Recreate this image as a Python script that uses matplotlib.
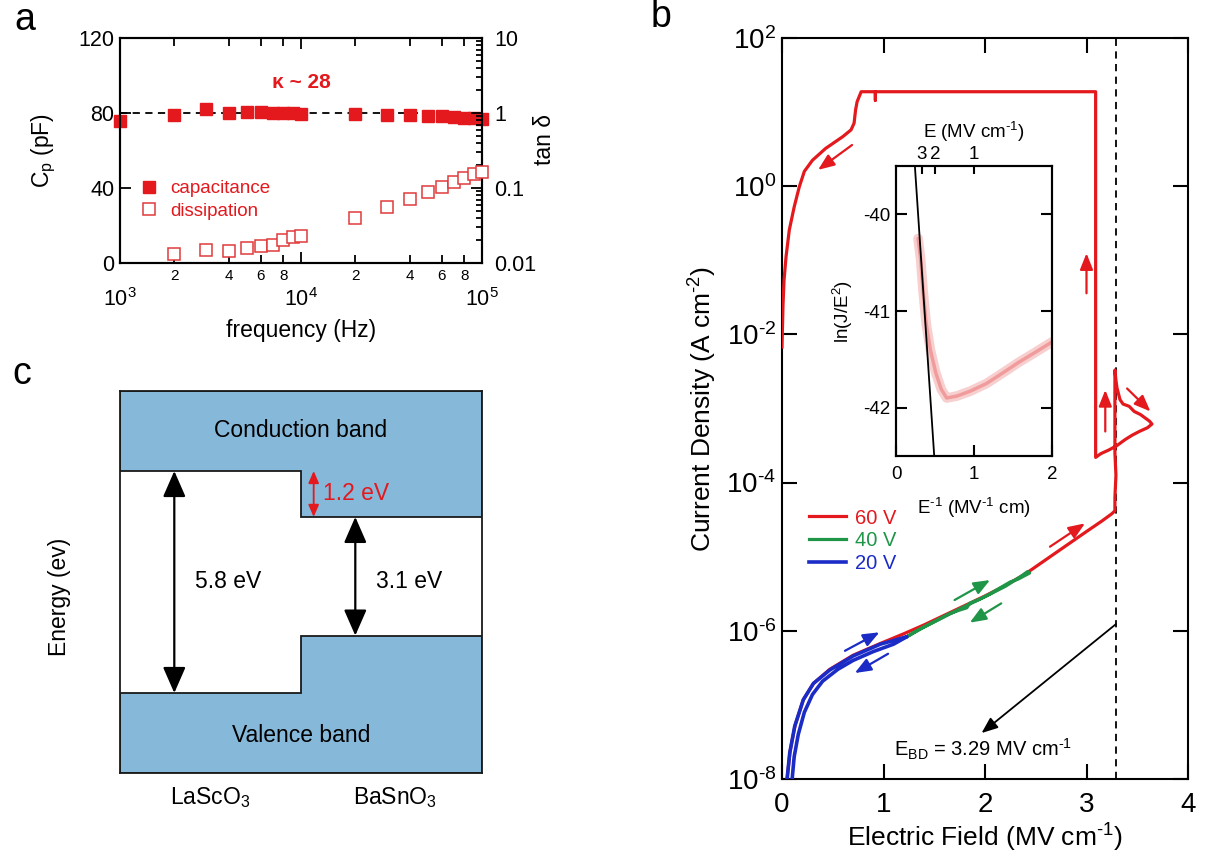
import numpy as np
import matplotlib
matplotlib.use("Agg")
import matplotlib.pyplot as plt
from matplotlib.ticker import FixedLocator, FixedFormatter, FuncFormatter, NullLocator
from matplotlib.patches import Polygon
from matplotlib.lines import Line2D

plt.rcParams['font.family'] = ['Liberation Sans', 'DejaVu Sans']
plt.rcParams['mathtext.fontset'] = 'custom'
plt.rcParams['mathtext.rm'] = 'Liberation Sans'
plt.rcParams['mathtext.it'] = 'Liberation Sans:italic'
plt.rcParams['mathtext.bf'] = 'Liberation Sans:bold'
plt.rcParams['axes.linewidth'] = 1.5

# ---------------- (a) capacitance / dissipation vs frequency ----------------
freq = [1e3, 2e3, 3e3, 4e3, 5e3, 6e3, 7e3, 8e3, 9e3, 1e4,
        2e4, 3e4, 4e4, 5e4, 6e4, 7e4, 8e4, 9e4, 1e5]
cap_pf = [75.9, 78.9, 81.9, 80.1, 80.3, 80.5, 79.8, 79.8, 79.8, 79.4,
          79.4, 79.2, 78.9, 78.5, 78.2, 78.0, 77.6, 77.3, 76.9]
diss_freq = [2e3, 3e3, 4e3, 5e3, 6e3, 7e3, 8e3, 9e3, 1e4,
             2e4, 3e4, 4e4, 5e4, 6e4, 7e4, 8e4, 9e4, 1e5]
tan_delta = [0.0132, 0.0149, 0.0143, 0.0157, 0.0167, 0.0175, 0.0200, 0.0219, 0.0231,
             0.0396, 0.0561, 0.0716, 0.0879, 0.102, 0.119, 0.135, 0.152, 0.165]
cap_ref = 80
kappa = 28
freq_major = [1e3, 1e4, 1e5]
freq_major_labels = [r'$10^{3}$', r'$10^{4}$', r'$10^{5}$']
freq_minor = [2e3, 4e3, 6e3, 8e3, 2e4, 4e4, 6e4, 8e4]
freq_minor_labels = ['2', '4', '6', '8', '2', '4', '6', '8']
cap_ticks = [0, 40, 80, 120]
tan_ticks = [0.01, 0.1, 1, 10]
tan_tick_labels = ['0.01', '0.1', '1', '10']

# ---------------- (b) J-E sweeps ----------------
# 60 V sweep: forward ramp, breakdown, compliance, return
red_e = [0.05, 0.08, 0.13, 0.21, 0.31, 0.47, 0.70, 0.97, 1.20, 1.40, 1.60, 1.80,
         2.00, 2.20, 2.40, 2.60, 2.80, 3.00, 3.15, 3.25, 3.28,
         3.28, 3.29, 3.28, 3.28, 3.28,
         3.29, 3.30, 3.33, 3.36, 3.42, 3.47, 3.53, 3.58, 3.62, 3.645,
         3.60, 3.52, 3.45, 3.38, 3.30, 3.22, 3.14, 3.09,
         3.09, 0.92, 0.92, 0.92, 0.78,
         0.74, 0.725, 0.71, 0.68, 0.60, 0.43, 0.30, 0.22, 0.17, 0.12,
         0.072, 0.04, 0.02, 0.01, 0.0]
red_log_j = [-8.0, -7.62, -7.27, -6.93, -6.71, -6.52, -6.33, -6.17, -6.04, -5.92, -5.79, -5.66,
             -5.53, -5.39, -5.23, -5.04, -4.85, -4.66, -4.52, -4.42, -4.38,
             -4.20, -3.90, -3.60, -3.00, -2.48,
             -2.62, -2.72, -2.88, -2.94, -2.97, -3.04, -3.08, -3.13, -3.17, -3.21,
             -3.26, -3.31, -3.36, -3.42, -3.50, -3.56, -3.61, -3.66,
             1.275, 1.275, 1.16, 1.275, 1.275,
             1.14, 1.03, 0.85, 0.76, 0.67, 0.51, 0.35, 0.20, -0.01, -0.28,
             -0.59, -0.95, -1.27, -1.60, -2.17]
# 40 V sweep
green_e = [1.23, 1.40, 1.60, 1.80, 2.00, 2.20, 2.35, 2.42, 2.44,
           2.33, 2.25, 2.15, 2.05, 1.95, 1.85, 1.82, 1.75, 1.65, 1.55, 1.45, 1.35, 1.23]
green_log_j = [-6.08, -5.95, -5.81, -5.67, -5.54, -5.40, -5.27, -5.20, -5.22,
               -5.30, -5.34, -5.42, -5.50, -5.57, -5.63, -5.69, -5.72, -5.77, -5.84, -5.91, -5.98, -6.08]
# 20 V sweep
blue_e = [0.05, 0.076, 0.125, 0.21, 0.31, 0.47, 0.70, 0.97, 1.23,
          1.10, 0.90, 0.70, 0.55, 0.40, 0.30, 0.22, 0.16, 0.12, 0.10]
blue_log_j = [-8.0, -7.65, -7.29, -6.93, -6.71, -6.53, -6.34, -6.18, -6.08,
              -6.18, -6.28, -6.40, -6.52, -6.68, -6.86, -7.10, -7.40, -7.70, -8.0]
e_bd = 3.29
sweep_labels = ['60 V', '40 V', '20 V']
j_decades = [-8, -6, -4, -2, 0, 2]

# inset: Fowler-Nordheim plot
fn_inv_e = [0.283, 0.317, 0.346, 0.387, 0.44, 0.51, 0.58, 0.65, 0.78, 0.95,
            1.16, 1.37, 1.575, 1.78, 2.0]
fn_ln = [-40.25, -40.47, -40.78, -41.13, -41.40, -41.64, -41.81, -41.90, -41.88, -41.83,
         -41.75, -41.64, -41.53, -41.43, -41.32]
fit_inv_e = [0.242, 0.49]
fit_ln = [-39.5, -42.5]
top_fields = [3, 2, 1]

# ---------------- (c) band alignment ----------------
gap_lasco = 5.8
gap_basno = 3.1
cb_offset = 1.2
materials = [r'LaScO$_3$', r'BaSnO$_3$']

RED = '#e3191e'
GREEN = '#1f9548'
BLUE = '#1b2bc6'
BAND = '#86b8d9'

W, H = 1221, 860
fig = plt.figure(figsize=(W / 100, H / 100), dpi=100)


def px_axes(l, t, r, b):
    return fig.add_axes([l / W, 1 - b / H, (r - l) / W, (b - t) / H])


def decade_label(v, pos):
    d = int(round(np.log10(v)))
    exp = (r'\text{-}%d' % -d) if d < 0 else '%d' % d
    return r'$10^{%s}$' % exp


# ===== panel a =====
ax_a = px_axes(120, 38, 482, 263)
ax_a.set_xscale('log')
ax_a.set_xlim(1e3, 1e5)
ax_a.set_ylim(0, 120)
ax_a.axhline(cap_ref, color='k', ls=(0, (4, 3)), lw=1.3, zorder=1)
ax_a.plot(freq, cap_pf, 's', color=RED, ms=8, clip_on=False, zorder=5)
ax_a.set_yticks(cap_ticks)
ax_a.yaxis.set_minor_locator(NullLocator())
ax_a.xaxis.set_major_locator(FixedLocator(freq_major))
ax_a.xaxis.set_major_formatter(FixedFormatter(freq_major_labels))
ax_a.xaxis.set_minor_locator(FixedLocator(freq_minor))
ax_a.xaxis.set_minor_formatter(FixedFormatter(freq_minor_labels))
ax_a.tick_params(axis='both', which='both', direction='in', top=True, width=1.3)
ax_a.tick_params(axis='x', which='major', pad=18, labelsize=15.5, length=8)
ax_a.tick_params(axis='x', which='minor', pad=4, labelsize=11, length=6)
ax_a.tick_params(axis='y', which='major', labelsize=15.5, length=8, pad=4)
ax_a.set_ylabel(r'C$_{\rm p}$ (pF)', fontsize=16.5)
ax_a.yaxis.set_label_coords(-0.17, 0.5)
ax_a.set_xlabel('frequency (Hz)', fontsize=16.5, va='center')
ax_a.xaxis.set_label_coords(0.5, -0.30)
ax_a.text(1e4, 96, f'κ ~ {kappa}', color=RED, fontsize=15, fontweight='bold',
          ha='center', va='center')

ax_r = ax_a.twinx()
ax_r.set_yscale('log')
ax_r.set_ylim(0.01, 10)
ax_r.plot(diss_freq, tan_delta, 's', mfc='white', mec='#e03a3a', mew=1.1, ms=8,
          clip_on=False, zorder=4)
ax_r.set_yticks(tan_ticks)
ax_r.set_yticklabels(tan_tick_labels)
ax_r.tick_params(axis='y', which='both', direction='in', width=1.3)
ax_r.tick_params(axis='y', which='major', length=8, labelsize=15.5, pad=9)
ax_r.tick_params(axis='y', which='minor', length=4)
ax_r.set_ylabel('tan δ', fontsize=16.5, rotation=90)
ax_r.yaxis.set_label_coords(1.14, 0.55)

handles_a = [Line2D([], [], ls='none', marker='s', color=RED, ms=8),
             Line2D([], [], ls='none', marker='s', mfc='white', mec='#e03a3a', mew=1.1, ms=8)]
ax_a.legend(handles_a, ['capacitance', 'dissipation'], loc='center left',
            bbox_to_anchor=(0.055, 0.28), frameon=False, fontsize=13.5,
            handlelength=1.0, handletextpad=0.6, labelspacing=0.3,
            borderpad=0, borderaxespad=0, labelcolor=RED)

# ===== panel b =====
ax_b = px_axes(782, 38, 1188, 779)
ax_b.set_yscale('log')
ax_b.set_xlim(0, 4)
ax_b.set_ylim(1e-8, 1e2)
ax_b.axvline(e_bd, color='k', ls=(0, (4, 3)), lw=1.3, zorder=1)
l60, = ax_b.plot(red_e, 10 ** np.array(red_log_j), color=RED, lw=2.3, zorder=3)
l40, = ax_b.plot(green_e, 10 ** np.array(green_log_j), color=GREEN, lw=2.3, zorder=4)
l20, = ax_b.plot(blue_e, 10 ** np.array(blue_log_j), color=BLUE, lw=2.6, zorder=5)
ax_b.yaxis.set_major_locator(FixedLocator([10.0 ** d for d in j_decades]))
ax_b.yaxis.set_major_formatter(FuncFormatter(decade_label))
ax_b.yaxis.set_minor_locator(NullLocator())
ax_b.set_xticks([0, 1, 2, 3, 4])
ax_b.tick_params(axis='both', which='major', direction='in', top=True, right=True,
                 length=11, width=1.5, labelsize=20)
ax_b.tick_params(axis='x', pad=9)
ax_b.tick_params(axis='y', pad=4)
ax_b.set_xlabel(r'Electric Field (MV cm$^{\text{-}1}$)', fontsize=19, va='center')
ax_b.xaxis.set_label_coords(0.5, -0.08)
ax_b.set_ylabel(r'Current Density (A cm$^{\text{-}2}$)', fontsize=19, va='center')
ax_b.yaxis.set_label_coords(-0.195, 0.5)

arrow_specs = [
    ((0.69, 10 ** 0.556), (0.355, 10 ** 0.22), RED),
    ((3.0, 10 ** -1.445), (3.0, 10 ** -0.905), RED),
    ((3.185, 10 ** -3.31), (3.185, 10 ** -2.75), RED),
    ((3.40, 10 ** -2.73), (3.63, 10 ** -3.04), RED),
    ((2.64, 10 ** -4.865), (2.985, 10 ** -4.55), RED),
    ((1.70, 10 ** -5.585), (2.05, 10 ** -5.315), GREEN),
    ((2.16, 10 ** -5.63), (1.85, 10 ** -5.89), GREEN),
    ((0.62, 10 ** -6.27), (0.96, 10 ** -6.02), BLUE),
    ((1.045, 10 ** -6.31), (0.717, 10 ** -6.57), BLUE),
]
for start, end, col in arrow_specs:
    ax_b.annotate('', xy=end, xytext=start,
                  arrowprops=dict(arrowstyle='-|>,head_length=0.7,head_width=0.28',
                                  color=col, lw=1.6, shrinkA=0, shrinkB=0,
                                  mutation_scale=14))

ax_b.annotate('', xy=(1.966, 10 ** -7.38), xytext=(e_bd, 10 ** -5.91),
              arrowprops=dict(arrowstyle='-|>,head_length=0.7,head_width=0.28',
                              color='k', lw=1.3, shrinkA=0, shrinkB=0, mutation_scale=14))
ax_b.text(1.98, 10 ** -7.6, r'E$_{\rm BD}$ = %.2f MV cm$^{\text{-}1}$' % e_bd,
          fontsize=14.5, ha='center', va='center')

ax_b.legend([l60, l40, l20], sweep_labels, loc='upper left', bbox_to_anchor=(0.066, 0.365),
            frameon=False, fontsize=14.5, handlelength=1.85, handletextpad=0.45,
            labelspacing=0.18, borderpad=0, borderaxespad=0, labelcolor='linecolor')

# inset
ax_in = px_axes(896, 166, 1052, 456)
ax_in.set_xlim(0, 2)
ax_in.set_ylim(-42.5, -39.5)
ax_in.plot(fn_inv_e, fn_ln, color='#e02828', lw=7, alpha=0.22, solid_capstyle='round')
ax_in.plot(fn_inv_e, fn_ln, color='#e02828', lw=2.5, alpha=0.3, solid_capstyle='round')
ax_in.plot(fit_inv_e, fit_ln, color='k', lw=1.3)
ax_in.set_xticks([0, 1, 2])
ax_in.set_yticks([-42, -41, -40])
ax_in.set_yticklabels(['-42', '-41', '-40'])
ax_in.tick_params(axis='both', direction='in', right=True, length=8, width=1.5,
                  labelsize=13.5)
ax_in.tick_params(axis='x', pad=7)
ax_in.tick_params(axis='y', pad=4)
ax_in.set_xlabel(r'E$^{\text{-}1}$ (MV$^{\text{-}1}$ cm)', fontsize=13.5, va='center')
ax_in.xaxis.set_label_coords(0.5, -0.18)
ax_in.set_ylabel(r'ln(J/E$^{2}$)', fontsize=13.5, va='center')
ax_in.yaxis.set_label_coords(-0.34, 0.5)
ax_top = ax_in.twiny()
ax_top.set_xlim(0, 2)
ax_top.set_xticks([1.0 / f for f in top_fields])
ax_top.set_xticklabels([str(f) for f in top_fields])
ax_top.tick_params(axis='x', direction='in', length=6, width=1.5, labelsize=13.5, pad=2)
ax_top.set_xlabel(r'E (MV cm$^{\text{-}1}$)', fontsize=13.5, labelpad=6)

# ===== panel c =====
ax_c = px_axes(120, 391, 482, 773)
e_top = gap_lasco + 2.09
e_bot = -2.09
ax_c.set_xlim(0, 1)
ax_c.set_ylim(e_bot, e_top)
vb_basno = gap_lasco - cb_offset - gap_basno
cb_basno = gap_lasco - cb_offset
cb_poly = [(0, gap_lasco), (0.5, gap_lasco), (0.5, cb_basno), (1, cb_basno), (1, e_top), (0, e_top)]
vb_poly = [(0, e_bot), (1, e_bot), (1, vb_basno), (0.5, vb_basno), (0.5, 0), (0, 0)]
for poly in (cb_poly, vb_poly):
    ax_c.add_patch(Polygon(poly, closed=True, facecolor=BAND, edgecolor='#1a1a1a', lw=1.3))
ax_c.set_xticks([])
ax_c.set_yticks([])
for s in ax_c.spines.values():
    s.set_linewidth(1.3)
    s.set_color('#1a1a1a')

dbl = dict(arrowstyle='<|-|>,head_length=0.8,head_width=0.35', color='k', lw=1.6,
           shrinkA=0, shrinkB=0, mutation_scale=20)
ax_c.annotate('', xy=(0.15, 0), xytext=(0.15, gap_lasco), arrowprops=dbl)
ax_c.annotate('', xy=(0.65, vb_basno), xytext=(0.65, cb_basno), arrowprops=dbl)
ax_c.annotate('', xy=(0.535, cb_basno), xytext=(0.535, gap_lasco),
              arrowprops=dict(arrowstyle='<|-|>,head_length=0.8,head_width=0.35', color=RED,
                              lw=1.3, shrinkA=0, shrinkB=0, mutation_scale=9))
ax_c.text(0.5, 6.87, 'Conduction band', fontsize=16.5, ha='center', va='center')
ax_c.text(0.5, -1.1, 'Valence band', fontsize=16.5, ha='center', va='center')
ax_c.text(0.30, 2.9, f'{gap_lasco} eV', fontsize=16.5, ha='center', va='center')
ax_c.text(0.80, 2.9, f'{gap_basno} eV', fontsize=16.5, ha='center', va='center')
ax_c.text(0.56, 5.22, f'{cb_offset} eV', fontsize=16.5, ha='left', va='center', color=RED)
ax_c.text(0.25, -2.72, materials[0], fontsize=16.5, ha='center', va='center')
ax_c.text(0.76, -2.72, materials[1], fontsize=16.5, ha='center', va='center')
ax_c.text(-0.166, 2.5, 'Energy (ev)', fontsize=16.5, ha='center', va='center', rotation=90)

# panel letters
fig.text(25 / W, 1 - 20 / H, 'a', fontsize=27, ha='center', va='center')
fig.text(661 / W, 1 - 17 / H, 'b', fontsize=27, ha='center', va='center')
fig.text(22 / W, 1 - 374 / H, 'c', fontsize=27, ha='center', va='center')

fig.savefig('out.png', dpi=100)
